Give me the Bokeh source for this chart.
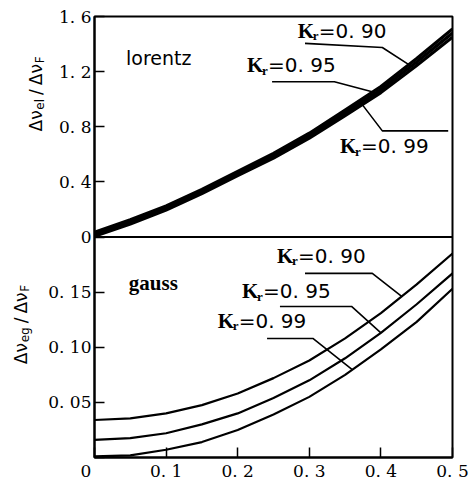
import numpy as np
from bokeh.plotting import figure
from bokeh.models import Label, FixedTicker, Range1d, Span
from bokeh.layouts import row
from bokeh.embed import file_html
from bokeh.resources import INLINE

# ---------------- data ----------------
x = [0.0, 0.05, 0.10, 0.15, 0.20, 0.25, 0.30, 0.35, 0.40, 0.45, 0.50]

lor_090 = [0.035, 0.125, 0.225, 0.345, 0.475, 0.607, 0.753, 0.920, 1.092, 1.295, 1.510]
lor_095 = [0.020, 0.110, 0.210, 0.330, 0.460, 0.590, 0.735, 0.900, 1.070, 1.270, 1.480]
lor_099 = [0.005, 0.095, 0.195, 0.315, 0.445, 0.573, 0.717, 0.880, 1.048, 1.245, 1.450]

gau_090 = [0.034, 0.0355, 0.040, 0.0475, 0.058, 0.072, 0.088, 0.108, 0.131, 0.157, 0.185]
gau_095 = [0.016, 0.0175, 0.022, 0.030, 0.040, 0.054, 0.070, 0.090, 0.113, 0.139, 0.167]
gau_099 = [0.001, 0.002, 0.007, 0.014, 0.025, 0.039, 0.055, 0.075, 0.098, 0.123, 0.153]

k_values = ["0. 90", "0. 95", "0. 99"]

x_ticks = [0.0, 0.1, 0.2, 0.3, 0.4, 0.5]
x_tick_labels = ["0\u2003", "0. 1", "0. 2", "0. 3", "0. 4", "0. 5"]
lor_ticks = [0.0, 0.4, 0.8, 1.2, 1.6]
lor_tick_labels = ["0", "0. 4", "0. 8", "1. 2", "1. 6"]
gau_ticks = [0.0, 0.05, 0.10, 0.15]
gau_tick_labels = ["", "0. 05", "0. 10", "0. 15"]

# annotation placement (data units): label anchor, leader corner points, leader end x on curve
lor_lab = [(0.284, 1.495), (0.213, 1.247), (0.343, 0.658)]
lor_lead = [([0.294, 0.402], [1.405, 1.375], 0.439),
            ([0.248, 0.335], [1.127, 1.127], 0.393),
            ([0.494, 0.402], [0.770, 0.770], 0.374)]
gau_lab = [(0.255, 0.183), (0.206, 0.151), (0.172, 0.124)]
gau_lead = [([0.294, 0.388], [0.167, 0.167], 0.429),
            ([0.259, 0.359], [0.137, 0.137], 0.400),
            ([0.241, 0.305], [0.108, 0.108], 0.360)]

TICK_FONT = "DejaVu Serif"
TICK_SIZE = "17px"
FRAME_H = 441
TOP_B = 16
TOTAL_H = 480
STRIP_W = 45

# ranges: lorentz panel is the upper half, gauss panel the lower half of one frame
lor_range = Range1d(-1.6, 1.6)
gau_range = Range1d(0.0, 0.4)


def gau_to_main(g):
    f = (g - gau_range.start) / (gau_range.end - gau_range.start)
    return round(lor_range.start + f * (lor_range.end - lor_range.start), 6)


# ---------------- main figure ----------------
p = figure(frame_width=358, frame_height=FRAME_H, x_range=Range1d(0, 0.5), y_range=lor_range,
           toolbar_location=None, output_backend="svg", align="start",
           min_border_left=47, min_border_right=20, min_border_top=TOP_B, min_border_bottom=0)
p.extra_y_ranges = {"gauss": gau_range}
p.outline_line_color = "black"
p.outline_line_width = 2
p.xgrid.visible = False
p.ygrid.visible = False

yt = [round(t, 6) for t in lor_ticks] + [gau_to_main(g) for g in gau_ticks]
yl = lor_tick_labels + gau_tick_labels
ya = p.yaxis[0]
ya.ticker = FixedTicker(ticks=yt)
ya.major_label_overrides = {t: l for t, l in zip(yt, yl)}

xa = p.xaxis[0]
xa.ticker = FixedTicker(ticks=x_ticks)
xa.major_label_overrides = {t: l for t, l in zip(x_ticks, x_tick_labels)}

for ax in (ya, xa):
    ax.major_tick_in = 10
    ax.major_tick_out = 0
    ax.minor_tick_line_color = None
    ax.axis_line_width = 2
    ax.major_tick_line_width = 1.5
    ax.major_label_text_font = TICK_FONT
    ax.major_label_text_font_size = TICK_SIZE
    ax.major_label_text_color = "black"
    ax.major_label_standoff = 3

p.add_layout(Span(location=0, dimension="width", line_color="black", line_width=2))

for s in (lor_090, lor_095, lor_099):
    p.line(x, s, line_color="black", line_width=3.2, line_join="round")
for s in (gau_090, gau_095, gau_099):
    p.line(x, s, line_color="black", line_width=2.2, line_join="round", y_range_name="gauss")


def klabel(pos, val, rname="default"):
    xx, yy = pos
    common = dict(x=xx, y=yy, y_range_name=rname, text_baseline="middle", text_color="black")
    p.add_layout(Label(text="K", text_font="Liberation Serif", text_font_style="bold",
                       text_font_size="21px", **common))
    p.add_layout(Label(text="r", x_offset=15, y_offset=-5, text_font="Liberation Serif",
                       text_font_style="bold", text_font_size="13px", **common))
    p.add_layout(Label(text="=" + val, x_offset=21, text_font="DejaVu Sans",
                       text_font_size="20px", **common))


def leader(corner_x, corner_y, end_x, series, rname="default"):
    xs = list(corner_x) + [end_x]
    ys = list(corner_y) + [float(np.interp(end_x, x, series))]
    p.line(xs, ys, line_color="black", line_width=1.6, y_range_name=rname)


for pos, (cx, cy, ex), s, v in zip(lor_lab, lor_lead, (lor_090, lor_095, lor_099), k_values):
    klabel(pos, v)
    leader(cx, cy, ex, s)
for pos, (cx, cy, ex), s, v in zip(gau_lab, gau_lead, (gau_090, gau_095, gau_099), k_values):
    klabel(pos, v, "gauss")
    leader(cx, cy, ex, s, "gauss")

p.add_layout(Label(x=0.044, y=1.30, text="lorentz", text_font="DejaVu Sans",
                   text_font_size="19px", text_baseline="middle", text_color="black"))
p.add_layout(Label(x=0.048, y=0.158, y_range_name="gauss", text="gauss",
                   text_font="Liberation Serif", text_font_style="bold",
                   text_font_size="21px", text_baseline="middle", text_color="black"))

# ---------------- left strip holding the rotated axis titles (pixel coordinates) ----------------
lab = figure(width=STRIP_W, height=TOTAL_H, x_range=Range1d(0, STRIP_W),
             y_range=Range1d(TOTAL_H, 0), x_axis_location=None, y_axis_location=None,
             toolbar_location=None, output_backend="svg", align="start", min_border=0)
lab.outline_line_color = None
lab.xgrid.visible = False
lab.ygrid.visible = False

EM = {"Δ": 0.684, "ν": 0.60, "e": 0.615, "l": 0.278, "g": 0.635,
      "F": 0.575, "/": 0.337, " ": 0.318}


def vlabel(xc, y0, pieces):
    # pieces: (text, font px, subscript?, gap before in px)
    off = 0.0
    for text, size, sub, gap in pieces:
        off += gap
        lab.add_layout(Label(x=xc, y=y0, x_offset=(4 if sub else 0), y_offset=off,
                             text=text, angle=np.pi / 2, text_align="left",
                             text_baseline="middle", text_font="DejaVu Sans",
                             text_font_size=f"{size}px", text_color="black"))
        off += sum(EM.get(c, 0.6) for c in text) * size


vlabel(35, 126, [("Δν", 17, False, 0), ("el", 12, True, 0), ("/", 17, False, 4),
                 ("Δν", 17, False, 4), ("F", 12, True, 0)])
vlabel(20, 381, [("Δν", 17, False, 0), ("eg", 12, True, 0), ("/", 17, False, 4),
                 ("Δν", 17, False, 4), ("F", 12, True, 0)])

layout = row(lab, p, spacing=0)
open("out.html", "w").write(file_html(layout, INLINE))
